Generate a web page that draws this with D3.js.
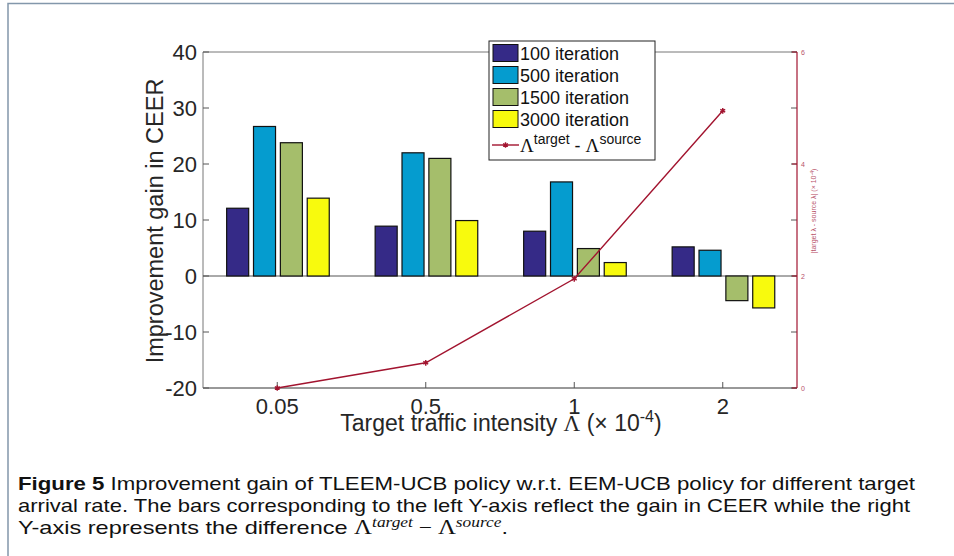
<!DOCTYPE html>
<html>
<head>
<meta charset="utf-8">
<script src="https://cdn.jsdelivr.net/npm/d3@7"></script>
<style>
  body { margin: 0; background: #fff; }
  svg text { font-family: "Liberation Sans", Arial, sans-serif; }
</style>
</head>
<body>
<svg id="chart" width="954" height="556"></svg>
<script>
// data
var categories = ["0.05", "0.5", "1", "2"];
var series = ["100 iteration", "500 iteration", "1500 iteration", "3000 iteration"];
var gain100 = [12.1, 8.9, 8.0, 5.2];
var gain500 = [26.7, 22.0, 16.8, 4.6];
var gain1500 = [23.8, 21.0, 4.9, -4.4];
var gain3000 = [13.9, 9.9, 2.4, -5.7];
var lambdaDiff = [0, 0.45, 1.95, 4.95];
var leftTicks = [-20, -10, 0, 10, 20, 30, 40];
var rightTicks = [0, 2, 4, 6];

var gains = [gain100, gain500, gain1500, gain3000];
var colors = ["#352a87", "#059ccf", "#a5be6b", "#f8fa0d"];
var lineColor = "#a2142f";

var svg = d3.select("#chart"),
    width = +svg.attr("width"),
    height = +svg.attr("height");

// page frame
svg.append("path")
    .attr("d", "M8," + height + "V3.5H" + width)
    .attr("fill", "none")
    .attr("stroke", "#8397ab")
    .attr("stroke-width", 1.5);

var plotL = 203, plotR = 797, plotT = 52, plotB = 388;

var x = d3.scaleBand().domain(categories).range([plotL, plotR]);
var xInner = d3.scaleBand().domain(series).range([-51.3, 51.3]).paddingInner(0.18);
var y = d3.scaleLinear().domain([-20, 40]).range([plotB, plotT]);
var yR = d3.scaleLinear().domain([0, 6]).range([plotB, plotT]);

// box
svg.append("line").attr("x1", plotL).attr("x2", plotR).attr("y1", plotT).attr("y2", plotT)
    .attr("stroke", "#777");
svg.append("line").attr("x1", plotL).attr("x2", plotR).attr("y1", plotB).attr("y2", plotB)
    .attr("stroke", "#333");
svg.append("line").attr("x1", plotL).attr("x2", plotL).attr("y1", plotT).attr("y2", plotB)
    .attr("stroke", "#777");

// left ticks (and mirrored on the right)
leftTicks.forEach(function (t) {
    svg.append("line").attr("x1", plotL).attr("x2", plotL + 6).attr("y1", y(t)).attr("y2", y(t))
        .attr("stroke", "#555");
    svg.append("line").attr("x1", plotR - 6).attr("x2", plotR).attr("y1", y(t)).attr("y2", y(t))
        .attr("stroke", "#555");
    svg.append("text")
        .attr("x", 197).attr("y", y(t) + 8)
        .attr("text-anchor", "end")
        .attr("font-size", 22)
        .attr("fill", "#262626")
        .text(t);
});

// x ticks
categories.forEach(function (c) {
    var cx = x(c) + x.bandwidth() / 2;
    svg.append("line").attr("x1", cx).attr("x2", cx).attr("y1", plotB).attr("y2", plotB - 6)
        .attr("stroke", "#555");
    svg.append("text")
        .attr("x", cx).attr("y", 414)
        .attr("text-anchor", "middle")
        .attr("font-size", 22)
        .attr("fill", "#262626")
        .text(c);
});

// zero line
svg.append("line").attr("x1", plotL).attr("x2", plotR).attr("y1", y(0)).attr("y2", y(0))
    .attr("stroke", "#555");

// bars
var groups = svg.selectAll(".group")
    .data(categories)
    .enter()
    .append("g")
    .attr("transform", function (d) { return "translate(" + (x(d) + x.bandwidth() / 2 + 0.7) + ",0)"; });

groups.selectAll("rect")
    .data(function (d, i) { return gains.map(function (g, j) { return { s: series[j], v: g[i], c: colors[j] }; }); })
    .enter()
    .append("rect")
    .attr("x", function (d) { return xInner(d.s); })
    .attr("width", xInner.bandwidth())
    .attr("y", function (d) { return Math.min(y(d.v), y(0)); })
    .attr("height", function (d) { return Math.abs(y(d.v) - y(0)); })
    .attr("fill", function (d) { return d.c; })
    .attr("stroke", "#111")
    .attr("stroke-width", 1.2);

// right axis
svg.append("line").attr("x1", plotR).attr("x2", plotR).attr("y1", plotT).attr("y2", plotB)
    .attr("stroke", lineColor).attr("stroke-width", 1.2);
rightTicks.forEach(function (t) {
    svg.append("line").attr("x1", plotR - 5).attr("x2", plotR).attr("y1", yR(t)).attr("y2", yR(t))
        .attr("stroke", lineColor);
    svg.append("text")
        .attr("x", 801).attr("y", yR(t) + 2.5)
        .attr("font-size", 7)
        .attr("fill", "#b8536a")
        .text(t);
});
var rl = svg.append("text")
    .attr("transform", "translate(816,211) rotate(-90)")
    .attr("text-anchor", "middle")
    .attr("font-size", 7)
    .attr("fill", "#b8536a");
rl.append("tspan").text("|target \u03bb - source \u03bb| (\u00d7 10");
rl.append("tspan").attr("dy", -2.5).attr("font-size", 5).text("-4");
rl.append("tspan").attr("dy", 2.5).text(")");

// line series
var linePts = categories.map(function (c, i) { return [x(c) + x.bandwidth() / 2, yR(lambdaDiff[i])]; });
svg.append("path")
    .attr("d", d3.line()(linePts))
    .attr("fill", "none")
    .attr("stroke", lineColor)
    .attr("stroke-width", 1.4);
var star = d3.symbol().type(d3.symbolAsterisk).size(22);
svg.selectAll(".mark")
    .data(linePts)
    .enter()
    .append("path")
    .attr("transform", function (d) { return "translate(" + d[0] + "," + d[1] + ")"; })
    .attr("d", star)
    .attr("fill", "none")
    .attr("stroke", lineColor)
    .attr("stroke-width", 1.4);

// axis titles
svg.append("text")
    .attr("transform", "translate(163,221) rotate(-90)")
    .attr("text-anchor", "middle")
    .attr("font-size", 23.5)
    .attr("fill", "#262626")
    .text("Improvement gain in CEER");

var xt = svg.append("text")
    .attr("x", 501).attr("y", 431)
    .attr("text-anchor", "middle")
    .attr("font-size", 23)
    .attr("fill", "#262626");
xt.append("tspan").text("Target traffic intensity ");
xt.append("tspan").attr("font-family", "Liberation Serif, serif").text("\u039b");
xt.append("tspan").text(" (\u00d7 10");
xt.append("tspan").attr("dy", -9).attr("font-size", 16).text("-4");
xt.append("tspan").attr("dy", 9).text(")");

// legend
var legend = svg.append("g").attr("transform", "translate(489,41)");
legend.append("rect")
    .attr("width", 166).attr("height", 119)
    .attr("fill", "white").attr("stroke", "#222");
var rows = legend.selectAll(".row")
    .data(series)
    .enter()
    .append("g")
    .attr("transform", function (d, i) { return "translate(0," + (12 + i * 22) + ")"; });
rows.append("rect")
    .attr("x", 4).attr("y", -8.5).attr("width", 25).attr("height", 17)
    .attr("fill", function (d, i) { return colors[i]; })
    .attr("stroke", "#111");
rows.append("text")
    .attr("x", 31).attr("y", 6.5)
    .attr("font-size", 18)
    .attr("fill", "#111")
    .text(function (d) { return d; });

var lrow = legend.append("g").attr("transform", "translate(0,104)");
lrow.append("line").attr("x1", 3).attr("x2", 30).attr("stroke", lineColor).attr("stroke-width", 1.4);
lrow.append("path").attr("transform", "translate(16.5,0)").attr("d", star)
    .attr("fill", "none").attr("stroke", lineColor).attr("stroke-width", 1.4);
var lt = lrow.append("text").attr("x", 31).attr("y", 7).attr("font-size", 18).attr("fill", "#111");
lt.append("tspan").attr("font-family", "Liberation Serif, serif").attr("font-size", 19).text("\u039b");
lt.append("tspan").attr("dy", -8).attr("font-size", 14).text("target");
lt.append("tspan").attr("dy", 8).text(" - ");
lt.append("tspan").attr("font-family", "Liberation Serif, serif").attr("font-size", 19).text("\u039b");
lt.append("tspan").attr("dy", -8).attr("font-size", 14).text("source");

// caption
var c1 = svg.append("text").attr("x", 18).attr("y", 490).attr("font-size", 19).attr("fill", "#111")
    .attr("textLength", 897).attr("lengthAdjust", "spacingAndGlyphs");
c1.append("tspan").attr("font-weight", "bold").text("Figure 5");
c1.append("tspan").text(" Improvement gain of TLEEM-UCB policy w.r.t. EEM-UCB policy for different target");

svg.append("text").attr("x", 18).attr("y", 512).attr("font-size", 19).attr("fill", "#111")
    .attr("textLength", 892).attr("lengthAdjust", "spacingAndGlyphs")
    .text("arrival rate. The bars corresponding to the left Y-axis reflect the gain in CEER while the right");

var c3 = svg.append("text").attr("x", 18).attr("y", 534).attr("font-size", 19).attr("fill", "#111")
    .attr("textLength", 490).attr("lengthAdjust", "spacingAndGlyphs");
c3.append("tspan").text("Y-axis represents the difference ");
c3.append("tspan").attr("font-family", "Liberation Serif, serif").attr("font-size", 20).text("\u039b");
c3.append("tspan").attr("dy", -7).attr("font-family", "Liberation Serif, serif").attr("font-style", "italic").attr("font-size", 14).text("target");
c3.append("tspan").attr("dy", 7).attr("font-family", "Liberation Serif, serif").attr("font-size", 19).text(" \u2212 ");
c3.append("tspan").attr("font-family", "Liberation Serif, serif").attr("font-size", 20).text("\u039b");
c3.append("tspan").attr("dy", -7).attr("font-family", "Liberation Serif, serif").attr("font-style", "italic").attr("font-size", 14).text("source");
c3.append("tspan").attr("dy", 7).text(".");
</script>
</body>
</html>
